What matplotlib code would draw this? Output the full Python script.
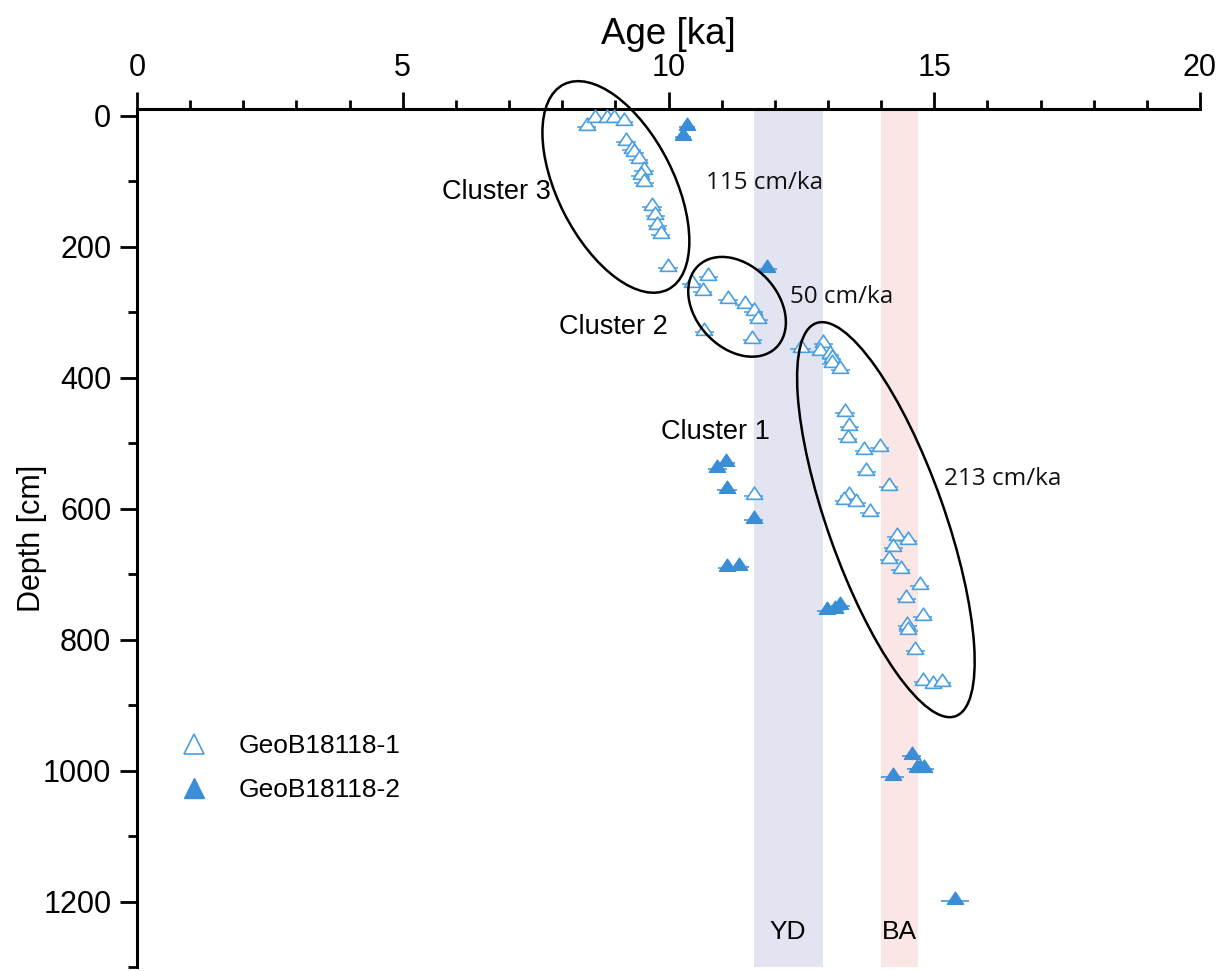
import matplotlib
matplotlib.use('Agg')
import matplotlib.pyplot as plt
from matplotlib.path import Path
from matplotlib.markers import MarkerStyle
from matplotlib.patches import Ellipse
from matplotlib.lines import Line2D
from matplotlib.transforms import ScaledTranslation
from matplotlib.ticker import MultipleLocator

plt.rcParams['font.family'] = ['Liberation Sans', 'DejaVu Sans']

# ---------------- data ----------------
# GeoB18118-1 (open triangles): age [ka], depth [cm], age error [ka]
age1 = [8.46, 8.62, 8.84, 8.98, 9.16, 9.20, 9.31, 9.36, 9.44, 9.54, 9.48, 9.54,
        9.69, 9.75, 9.79, 9.85, 9.99,
        10.44, 10.75, 10.64, 11.12, 11.44, 11.60, 11.69, 10.67, 11.58,
        12.49, 12.91, 12.85, 13.03, 13.07, 13.07, 13.23, 13.32, 13.40, 13.37,
        13.68, 13.97, 13.72, 14.14, 13.40, 13.31, 13.53, 13.79, 14.29, 14.50,
        14.23, 14.15, 14.37, 14.73, 14.47, 14.78, 14.49, 14.51, 14.64, 14.79,
        14.97, 15.14, 11.60]
depth1 = [18, 5, 5, 5, 10, 40, 53, 57, 68, 85, 93, 103,
          139, 154, 168, 183, 233,
          257, 246, 269, 281, 290, 300, 312, 330, 343,
          356, 349, 361, 366, 372, 380, 388, 454, 476, 494,
          512, 508, 544, 567, 581, 588, 592, 607, 643, 650,
          660, 679, 694, 719, 738, 765, 780, 787, 818, 865,
          870, 866, 581]
err1 = [0.18, 0.18, 0.18, 0.18, 0.18, 0.18, 0.18, 0.18, 0.18, 0.18, 0.18, 0.18,
        0.18, 0.18, 0.18, 0.18, 0.18,
        0.18, 0.18, 0.18, 0.18, 0.18, 0.18, 0.18, 0.18, 0.18,
        0.2, 0.18, 0.18, 0.18, 0.18, 0.18, 0.18, 0.18, 0.18, 0.18,
        0.18, 0.18, 0.18, 0.18, 0.18, 0.18, 0.18, 0.18, 0.18, 0.18,
        0.18, 0.18, 0.18, 0.18, 0.18, 0.18, 0.18, 0.18, 0.18, 0.18,
        0.18, 0.18, 0.18]

# GeoB18118-2 (filled triangles)
age2 = [10.34, 10.28, 11.86, 11.08, 10.92, 11.10, 11.60, 11.11, 11.33,
        12.98, 13.13, 13.23, 14.58, 14.67, 14.73, 14.81, 14.22, 15.39]
depth2 = [18, 33, 234, 530, 540, 572, 618, 691, 689,
          757, 755, 749, 978, 998, 998, 998, 1010, 1199]
err2 = [0.15, 0.15, 0.18, 0.18, 0.18, 0.18, 0.18, 0.18, 0.18,
        0.18, 0.18, 0.18, 0.18, 0.18, 0.18, 0.18, 0.22, 0.26]

# climate intervals (ka)
band_names = ['YD', 'BA']
band_start = [11.6, 14.0]
band_end = [12.9, 14.7]
band_colors = ['#e3e4f2', '#fbe6e6']

# cluster ellipses: centre (age, depth), width/height (inch), angle (deg)
cl_center = [(9.01, 109), (11.29, 292), (14.09, 617)]
cl_size = [(2.30, 1.16), (1.13, 0.82), (4.17, 1.17)]
cl_angle = [-63, -47, -70.5]

cluster_labels = ['Cluster 3', 'Cluster 2', 'Cluster 1']
cluster_label_pos = [(6.77, 117), (8.96, 323), (10.89, 483)]
rate_labels = ['115 cm/ka', '50 cm/ka', '213 cm/ka']
rate_label_pos = [(11.80, 103), (13.26, 277), (16.29, 555)]

series_names = ['GeoB18118-1', 'GeoB18118-2']

# ---------------- figure ----------------
W, H = 1226, 971
fig = plt.figure(figsize=(W / 100, H / 100), dpi=100)
ax = fig.add_axes([137 / W, 4 / H, 1063 / W, 858 / H])

blue_open = '#4a9fe0'
blue_fill = '#3a8ed6'

for name, s, e, c in zip(band_names, band_start, band_end, band_colors):
    ax.axvspan(s, e, color=c, lw=0, zorder=0)
    ax.text((s + e) / 2, 1247, name, ha='center', va='center', fontsize=19)

tri = MarkerStyle(Path([(-1, -0.35), (1, -0.35), (0, 1.15), (-1, -0.35)],
                       [Path.MOVETO, Path.LINETO, Path.LINETO, Path.CLOSEPOLY]))

ax.errorbar(age1, depth1, xerr=err1, fmt='none', ecolor=blue_open, elinewidth=1.1,
            capsize=0, zorder=2)
ax.plot(age1, depth1, ls='none', marker=tri, ms=13.5, mfc='white', mec=blue_open,
        mew=1.2, zorder=3)
ax.errorbar(age2, depth2, xerr=err2, fmt='none', ecolor=blue_fill, elinewidth=1.1,
            capsize=0, zorder=2)
ax.plot(age2, depth2, ls='none', marker=tri, ms=13.5, mfc=blue_fill, mec=blue_fill,
        mew=1.0, zorder=3)

for (xc, yc), (w, h), a in zip(cl_center, cl_size, cl_angle):
    tr = fig.dpi_scale_trans + ScaledTranslation(xc, yc, ax.transData)
    ax.add_patch(Ellipse((0, 0), w, h, angle=a, transform=tr, fill=False,
                         ec='black', lw=1.8, clip_on=False, zorder=4))

for t, (x, y) in zip(cluster_labels, cluster_label_pos):
    ax.text(x, y, t, ha='center', va='center', fontsize=19.5)
for t, (x, y) in zip(rate_labels, rate_label_pos):
    ax.text(x, y, t, ha='center', va='center', fontsize=17.5, family='Open Sans',
            color='#111111')

ax.set_xlim(0, 20)
ax.set_ylim(1300, -10)

ax.xaxis.set_ticks_position('top')
ax.xaxis.set_label_position('top')
ax.xaxis.set_major_locator(MultipleLocator(5))
ax.xaxis.set_minor_locator(MultipleLocator(1))
ax.yaxis.set_major_locator(MultipleLocator(200))
ax.yaxis.set_minor_locator(MultipleLocator(100))
for sp in ['right', 'bottom']:
    ax.spines[sp].set_visible(False)
for sp in ['top', 'left']:
    ax.spines[sp].set_linewidth(2.2)
ax.tick_params(which='major', length=12.5, width=2.0, labelsize=22)
ax.tick_params(which='minor', length=6.5, width=2.0)
ax.tick_params(axis='x', which='major', pad=6)
ax.tick_params(axis='y', which='major', pad=6)

ax.set_xlabel('Age [ka]', fontsize=26.5, labelpad=7)
ax.set_ylabel('Depth [cm]', fontsize=22, labelpad=-3)

handles = [Line2D([], [], ls='none', marker='^', ms=14, mfc='white', mec=blue_open, mew=1.2),
           Line2D([], [], ls='none', marker='^', ms=14, mfc=blue_fill, mec=blue_fill, mew=1.0)]
ax.legend(handles, series_names, loc='upper left', bbox_to_anchor=(0.041, 0.271),
          frameon=False, fontsize=19, handlelength=1.0, handletextpad=1.2,
          labelspacing=0.75, borderpad=0, borderaxespad=0)

fig.savefig('out.png', dpi=100)
